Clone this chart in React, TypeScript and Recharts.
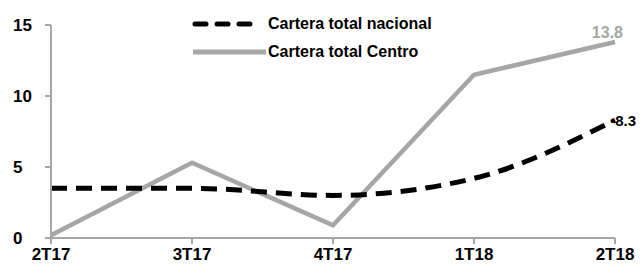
import { LabelList, Line, LineChart, XAxis, YAxis } from 'recharts';

const quarters = ['2T17', '3T17', '4T17', '1T18', '2T18'];
const nacional = [3.5, 3.5, 3.0, 4.2, 8.3];
const centro = [0.2, 5.3, 0.9, 11.5, 13.8];
const yTicks = [0, 5, 10, 15];

const data = quarters.map((q, i) => ({ q, nacional: nacional[i], centro: centro[i] }));

const FONT = '"Liberation Sans", Arial, sans-serif';
const GRAY = '#a6a6a6';
const lastIdx = quarters.length - 1;

function LegendBox() {
  const row = { display: 'flex', alignItems: 'center', height: 28 } as const;
  return (
    <div
      style={{
        position: 'absolute',
        left: 182,
        top: 2,
        fontFamily: FONT,
        fontWeight: 700,
        fontSize: 16,
        color: '#000',
      }}
    >
      <div style={row}>
        <svg width={78} height={10}>
          <line x1={5} y1={5} x2={66} y2={5} stroke="#000" strokeWidth={5} strokeDasharray="11 11" strokeLinecap="round" />
        </svg>
        <span>Cartera total nacional</span>
      </div>
      <div style={row}>
        <svg width={78} height={10}>
          <line x1={3} y1={5} x2={76} y2={5} stroke={GRAY} strokeWidth={5} />
        </svg>
        <span>Cartera total Centro</span>
      </div>
    </div>
  );
}

function NacLabel(props: any) {
  const { x, y, index, value } = props;
  if (index !== lastIdx) return null;
  return (
    <text x={x - 5} y={y + 6} fontFamily={FONT} fontWeight={700} fontSize={15} fill="#000">
      •{value}
    </text>
  );
}

function CenLabel(props: any) {
  const { x, y, index, value } = props;
  if (index !== lastIdx) return null;
  return (
    <text x={x + 8} y={y - 4} textAnchor="end" fontFamily={FONT} fontWeight={700} fontSize={16} fill={GRAY}>
      {value}
    </text>
  );
}

function YTick(props: any) {
  const { y, payload } = props;
  return (
    <text x={5} y={y + 6} textAnchor="start" fontFamily={FONT} fontWeight={700} fontSize={17} fill="#000">
      {payload.value}
    </text>
  );
}

export default function App() {
  return (
    <div style={{ position: 'relative', width: 636, height: 266 }}>
      <LineChart width={636} height={266} data={data} margin={{ top: 17, right: 29, bottom: 4, left: 0 }}>
        <XAxis
          dataKey="q"
          stroke={GRAY}
          strokeWidth={2}
          tickSize={6}
          tickMargin={4}
          height={32}
          tick={{ fill: '#000', fontFamily: FONT, fontWeight: 700, fontSize: 17 }}
          interval={0}
        />
        <YAxis
          domain={[0, 15]}
          ticks={yTicks}
          stroke={GRAY}
          strokeWidth={2}
          tickSize={6}
          width={43}
          tick={YTick}
        />
        <Line
          type="linear"
          dataKey="centro"
          stroke={GRAY}
          strokeWidth={4.5}
          dot={false}
          isAnimationActive={false}
        >
          <LabelList dataKey="centro" content={CenLabel} />
        </Line>
        <Line
          type="monotone"
          dataKey="nacional"
          stroke="#000"
          strokeWidth={5}
          strokeDasharray="16 9"
          dot={false}
          isAnimationActive={false}
        >
          <LabelList dataKey="nacional" content={NacLabel} />
        </Line>
      </LineChart>
      <LegendBox />
    </div>
  );
}
